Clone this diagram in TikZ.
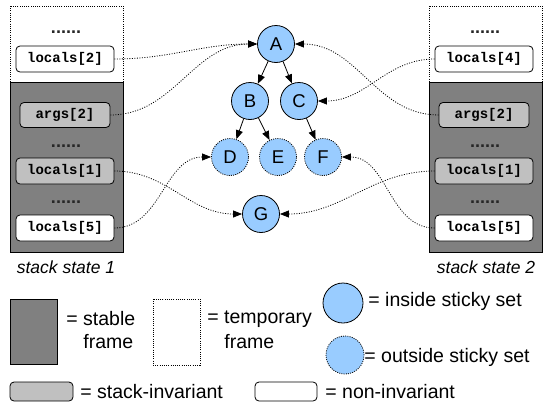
\documentclass[tikz,border=0pt]{standalone}
\usepackage{fontspec}
\setmainfont{Liberation Sans}
\setmonofont{Liberation Mono}
\usetikzlibrary{arrows.meta}
\definecolor{stickyblue}{RGB}{153,204,255}
\definecolor{stablegray}{RGB}{128,128,128}
\definecolor{invgray}{RGB}{192,192,192}
\tikzset{
  slot/.style={draw, rounded corners=4pt, fill=white, minimum width=98pt, minimum height=26pt, inner sep=0pt, font=\ttfamily\bfseries\fontsize{14}{16}\selectfont},
  invslot/.style={slot, fill=invgray},
  gap/.style={font=\bfseries\fontsize{18}{18}\selectfont, inner sep=0pt, text=black!85},
  vtx/.style={circle, draw, fill=stickyblue, minimum size=37pt, inner sep=0pt, font=\fontsize{18.5}{20}\selectfont},
  outvtx/.style={vtx, dash pattern=on 1pt off 1.2pt},
  ptr/.style={dash pattern=on 1pt off 1.5pt, -{Triangle[length=9pt,width=7pt]}},
  edge/.style={-{Triangle[length=9pt,width=7pt]}},
  legend/.style={anchor=west, inner sep=0pt, font=\fontsize{19.5}{22}\selectfont},
  caption/.style={font=\itshape\fontsize{17.5}{20}\selectfont}
}
\begin{document}
\begin{tikzpicture}[x=1pt, y=-1pt, line width=0.8pt]
\useasboundingbox (0,0) rectangle (543,407);
\draw[dash pattern=on 1pt off 1.2pt] (10,6) rectangle (123,82);
\draw[fill=stablegray] (10,82) rectangle (123,252);
\draw[dash pattern=on 1pt off 1.2pt] (429,6) rectangle (542,82);
\draw[fill=stablegray] (429,82) rectangle (542,252);
\node[gap] (lgap0) at (66,32) {......};
\node[slot] (lloc2) at (65,59) {locals[2]};
\node[invslot, minimum width=90pt, minimum height=25pt] (largs2) at (65,115) {args[2]};
\node[gap] (lgap1) at (66,146) {......};
\node[invslot] (lloc1) at (65,171) {locals[1]};
\node[gap] (lgap2) at (66,202) {......};
\node[slot] (lloc5) at (65,228) {locals[5]};
\node[caption] (lcap) at (66,267) {stack state 1};
\node[gap] (rgap0) at (485,32) {......};
\node[slot] (rloc4) at (484,59) {locals[4]};
\node[invslot, minimum width=90pt, minimum height=25pt] (rargs2) at (484,115) {args[2]};
\node[gap] (rgap1) at (485,146) {......};
\node[invslot] (rloc1) at (484,171) {locals[1]};
\node[gap] (rgap2) at (485,202) {......};
\node[slot] (rloc5) at (484,228) {locals[5]};
\node[caption] (rcap) at (486,267) {stack state 2};
\node[vtx] (A) at (276,44) {A};
\node[vtx] (B) at (250,101) {B};
\node[vtx] (C) at (299,101) {C};
\node[outvtx] (D) at (230,157) {D};
\node[outvtx] (E) at (278,157) {E};
\node[outvtx] (F) at (323,157) {F};
\node[vtx] (G) at (261,214) {G};
\draw[edge] (A) -- (B);
\draw[edge] (A) -- (C);
\draw[edge] (B) -- (D);
\draw[edge] (B) -- (E);
\draw[edge] (C) -- (F);
\draw[ptr] (lloc2.east) to[out=0, in=180] (A.west);
\draw[ptr] (largs2.east) to[out=0, in=180] (A.west);
\draw[ptr] (lloc1.east) to[out=0, in=180] (G.west);
\draw[ptr] (lloc5.east) to[out=0, in=180] (D.west);
\draw[ptr] (rloc4.west) to[out=180, in=0] (C.east);
\draw[ptr] (rargs2.west) to[out=180, in=0] (A.east);
\draw[ptr] (rloc1.west) to[out=180, in=0] (G.east);
\draw[ptr] (rloc5.west) to[out=180, in=0] (F.east);
\draw[fill=stablegray] (10,299) rectangle (57,364);
\node[legend] (stabletxt) at (66,319) {= stable};
\node[legend] (stabletxt2) at (83,342) {frame};
\draw[dash pattern=on 1pt off 1.2pt] (153,299) rectangle (200,365);
\node[legend] (temptxt) at (207,319) {= temporary};
\node[legend] (temptxt2) at (224,342) {frame};
\node[vtx, minimum size=40pt] (inkey) at (343,303) {};
\node[legend] (intxt) at (368,301) {= inside sticky set};
\node[outvtx, minimum size=38pt] (outkey) at (345,355) {};
\node[legend] (outtxt) at (364,357) {= outside sticky set};
\draw[fill=invgray, rounded corners=4pt] (10,382) rectangle (73,401);
\node[legend] (invtxt) at (80,392) {= stack-invariant};
\draw[fill=white, rounded corners=4pt] (255,382) rectangle (317,401);
\node[legend] (noninvtxt) at (325,392) {= non-invariant};
\end{tikzpicture}
\end{document}
